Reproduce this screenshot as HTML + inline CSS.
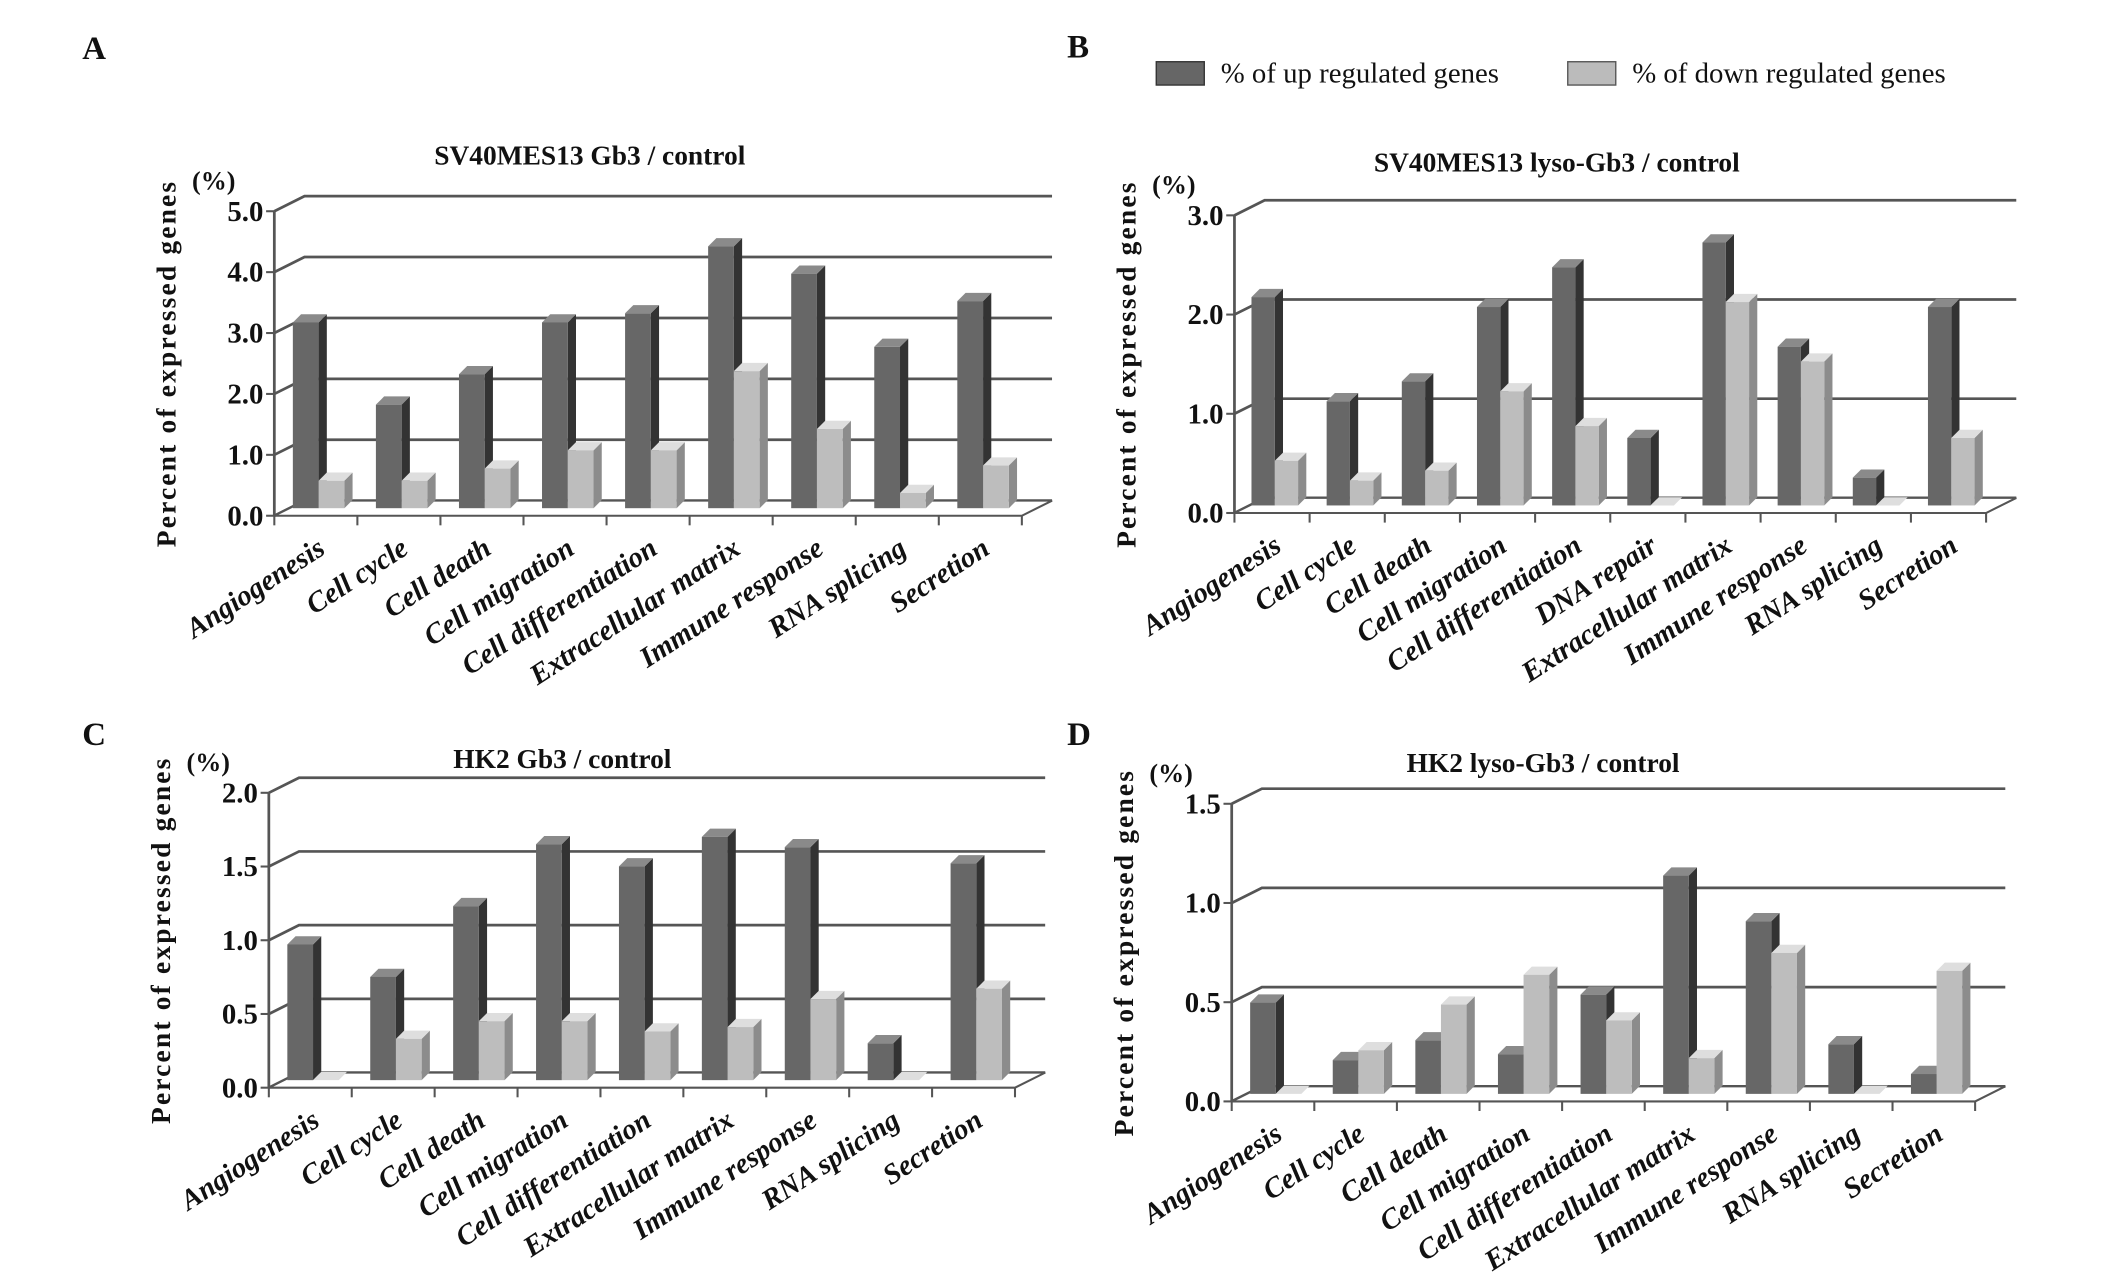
<!DOCTYPE html>
<html><head><meta charset="utf-8"><style>body{margin:0;background:#fff}svg{display:block}text{font-family:"Liberation Serif",serif;font-weight:bold;fill:#111}</style></head>
<body>
<svg id="fig" xmlns="http://www.w3.org/2000/svg" width="2126" height="1287" viewBox="0 0 1550 938.3">
<text x="60" y="43" font-size="24">A</text>
<text x="778" y="42" font-size="24">B</text>
<text x="60" y="543" font-size="24">C</text>
<text x="778" y="543" font-size="24">D</text>
<g>
<rect x="843" y="45" width="35" height="17" fill="#666" stroke="#333"/>
<text x="890" y="60" font-size="21" style="font-weight:normal">% of up regulated genes</text>
<rect x="1143" y="45" width="35" height="17" fill="#bbb" stroke="#555"/>
<text x="1190" y="60" font-size="21" style="font-weight:normal">% of down regulated genes</text>
</g>
</svg>
<script>
const catsA = ["Angiogenesis","Cell cycle","Cell death","Cell migration","Cell differentiation","Extracellular matrix","Immune response","RNA splicing","Secretion"];
const catsB = ["Angiogenesis","Cell cycle","Cell death","Cell migration","Cell differentiation","DNA repair","Extracellular matrix","Immune response","RNA splicing","Secretion"];
const catsC = catsA;
const catsD = catsA;
const upA = [3.05,1.7,2.2,3.05,3.2,4.3,3.85,2.65,3.4];
const downA = [0.45,0.45,0.65,0.95,0.95,2.25,1.3,0.25,0.7];
const upB = [2.1,1.05,1.25,2.0,2.4,0.68,2.65,1.6,0.28,2.0];
const downB = [0.45,0.25,0.35,1.15,0.8,0,2.05,1.45,0,0.68];
const upC = [0.92,0.7,1.18,1.6,1.45,1.65,1.58,0.25,1.47];
const downC = [0,0.28,0.4,0.4,0.33,0.36,0.55,0,0.62];
const upD = [0.46,0.17,0.27,0.2,0.5,1.1,0.87,0.25,0.1];
const downD = [0,0.22,0.45,0.6,0.37,0.18,0.71,0,0.62];
const ticksA = ["0.0","1.0","2.0","3.0","4.0","5.0"];
const ticksB = ["0.0","1.0","2.0","3.0"];
const ticksC = ["0.0","0.5","1.0","1.5","2.0"];
const ticksD = ["0.0","0.5","1.0","1.5"];
const NS="http://www.w3.org/2000/svg";
const svg=document.getElementById('fig');
function mk(tag,attrs,parent){const e=document.createElementNS(NS,tag);for(const k in attrs)e.setAttribute(k,attrs[k]);(parent||svg).appendChild(e);return e;}
function panel(id,title,cats,up,down,ticks,maxv,x0,x1,y0,yTop,titleX,titleY){
  const g=mk('g',{});
  
  
  const dx=22,dy=-11;
  const y=v=>y0-(v/maxv)*(y0-yTop);
  const t=mk('text',{x:titleX,y:titleY,'font-size':20,'text-anchor':'middle'},g);t.textContent=title;
  
  
  const pc=mk('text',{x:x0-60,y:yTop-16,'font-size':19},g);pc.textContent='(%)';
  
  
  const yt=mk('text',{x:0,y:0,'font-size':20,'text-anchor':'middle','letter-spacing':'1.6',transform:`translate(${x0-72},${(y0+yTop)/2}) rotate(-90)`},g);yt.textContent='Percent of expressed genes';
  
  
  ticks.forEach((lab,i)=>{const v=parseFloat(lab);const yy=y(v);
    const gl=mk('polyline',{points:`${x0},${yy} ${x0+dx},${yy+dy} ${x1+dx},${yy+dy}`,fill:'none',stroke:'#555','stroke-width':2},g);
    
    
    mk('line',{x1:x0-6,y1:yy,x2:x0,y2:yy,stroke:'#555','stroke-width':1.5},g);
    const tl=mk('text',{x:x0-8,y:yy+7,'font-size':21,'text-anchor':'end'},g);tl.textContent=lab;
    
    
  });
  mk('line',{x1:x0,y1:y0,x2:x0,y2:yTop,stroke:'#555','stroke-width':2},g);
  mk('polygon',{points:`${x0},${y0} ${x1},${y0} ${x1+dx},${y0+dy} ${x0+dx},${y0+dy}`,fill:'#fff',stroke:'#555','stroke-width':1.5},g);
  const n=cats.length,w=(x1-x0)/n;
  for(let i=0;i<=n;i++){mk('line',{x1:x0+i*w,y1:y0,x2:x0+i*w,y2:y0+7,stroke:'#555','stroke-width':1.5},g);}
  const bw=w*0.31,d=6;
  function bar(xl,v,fc,sc,tc,name){
    const top=y(v)+dy*0.5,bot=y0+dy*0.5;
    const bg=mk('g',{},g);
    
    
    mk('polygon',{points:`${xl+bw},${bot} ${xl+bw+d},${bot-d} ${xl+bw+d},${top-d} ${xl+bw},${top}`,fill:sc},bg);
    mk('polygon',{points:`${xl},${top} ${xl+d},${top-d} ${xl+bw+d},${top-d} ${xl+bw},${top}`,fill:tc},bg);
    mk('rect',{x:xl,y:top,width:bw,height:Math.max(0,bot-top),fill:fc},bg);
  }
  cats.forEach((c,i)=>{
    const cx=x0+i*w+w/2;
    bar(cx-bw+2,up[i],'#676767','#333','#8a8a8a','bar-up-'+i);
    bar(cx+2,down[i],'#bdbdbd','#8c8c8c','#dedede','bar-down-'+i);
    const lb=mk('text',{x:0,y:0,'font-size':21,'font-style':'italic','text-anchor':'end',transform:`translate(${cx+8},${y0+27}) rotate(-33)`},g);lb.textContent=c;
    
    
  });
}
panel('a','SV40MES13 Gb3 / control',catsA,upA,downA,ticksA,5,200,745,376,154,430,120);
panel('b','SV40MES13 lyso-Gb3 / control',catsB,upB,downB,ticksB,3,900,1448,374,157,1135,125);
panel('c','HK2 Gb3 / control',catsC,upC,downC,ticksC,2,196,740,793,578,410,560);
panel('d','HK2 lyso-Gb3 / control',catsD,upD,downD,ticksD,1.5,898,1440,803,586,1125,563);
</script>
</body></html>
